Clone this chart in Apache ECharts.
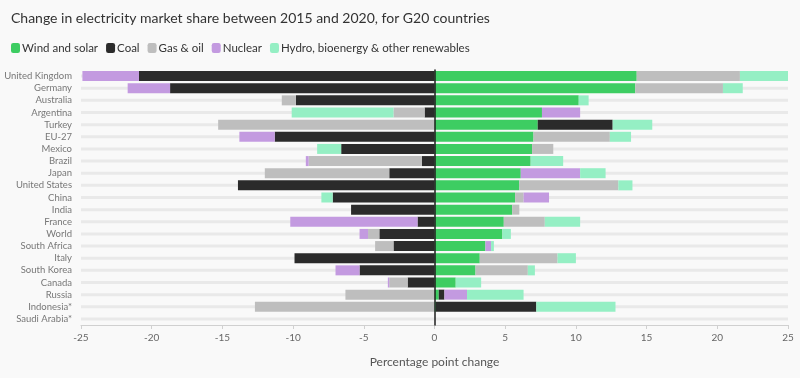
<!DOCTYPE html>
<html>
<head>
<meta charset="utf-8">
<script src="https://cdn.jsdelivr.net/npm/echarts@6/dist/echarts.min.js"></script>
<style>
html,body{margin:0;padding:0;background:#f9f9f9;}
#c{width:800px;height:378px;}
</style>
</head>
<body>
<div id="c"></div>
<script>
const categories = ["United Kingdom","Germany","Australia","Argentina","Turkey","EU-27","Mexico","Brazil","Japan","United States","China","India","France","World","South Africa","Italy","South Korea","Canada","Russia","Indonesia*","Saudi Arabia*"];
const windSolar = [14.3, 14.2, 10.2, 7.6, 7.3, 7.0, 6.9, 6.8, 6.1, 6.0, 5.7, 5.5, 4.9, 4.8, 3.6, 3.2, 2.9, 1.5, 0.3, 0.1, 0];
const coal      = [-20.9, -18.7, -9.8, -0.7, 5.3, -11.3, -6.6, -0.9, -3.2, -13.9, -7.2, -5.9, -1.2, -3.9, -2.9, -9.9, -5.3, -1.9, 0.4, 7.1, 0];
const gasOil    = [7.3, 6.2, -1.0, -2.2, -15.3, 5.4, 1.5, -8.0, -8.8, 7.0, 0.6, 0.5, 2.9, -0.8, -1.3, 5.5, 3.7, -1.3, -6.3, -12.7, 0];
const nuclear   = [-4.0, -3.0, 0, 2.7, 0, -2.5, 0, -0.2, 4.2, 0, 1.8, 0, -9.0, -0.6, 0.4, 0, -1.7, -0.1, 1.6, 0, 0];
const hydro     = [3.4, 1.4, 0.7, -7.2, 2.8, 1.5, -1.7, 2.3, 1.8, 1.0, -0.8, 0, 2.5, 0.6, 0.2, 1.3, 0.5, 1.8, 4.0, 5.6, 0];
const seriesNames = ["Wind and solar","Coal","Gas & oil","Nuclear","Hydro, bioenergy & other renewables"];
const seriesData = [windSolar, coal, gasOil, nuclear, hydro];
const colors = ["#3dcd62","#2b2b2b","#bebebe","#c39ae0","#95efc4"];
const xTicks = {min:-25, max:25, interval:5};

const font = "Lato, 'Noto Sans', sans-serif";
const chart = echarts.init(document.getElementById('c'), null, {renderer:'canvas'});

const trackPos = categories.map(() => xTicks.max);
const trackNeg = categories.map(() => xTicks.min);

const series = [
  {type:'bar', yAxisIndex:1, data:trackPos, barWidth:3, silent:true, z:1, itemStyle:{color:'#e9e9e9'}, barGap:'-100%'},
  {type:'bar', yAxisIndex:1, data:trackNeg, barWidth:3, silent:true, z:1, itemStyle:{color:'#e9e9e9'}, barGap:'-100%'}
];
seriesNames.forEach((n,i) => {
  series.push({
    name:n, type:'bar', stack:'total', yAxisIndex:0, data:seriesData[i],
    barWidth:10, z:3, itemStyle:{color:colors[i]}
  });
});

chart.setOption({
  backgroundColor:'#f9f9f9',
  animation:false,
  textStyle:{fontFamily:font},
  title:{
    text:'Change in electricity market share between 2015 and 2020, for G20 countries',
    left:6, top:6,
    textStyle:{fontSize:14, fontWeight:'normal', color:'#333', fontFamily:font}
  },
  legend:{
    data:seriesNames, left:6, top:37, icon:'roundRect', itemWidth:9, itemHeight:10, itemGap:8,
    textStyle:{fontSize:11.5, color:'#333', fontFamily:font, padding:[0,0,0,-3]}
  },
  grid:{left:81, right:12, top:70, bottom:53},
  xAxis:{
    type:'value', min:xTicks.min, max:xTicks.max, interval:xTicks.interval,
    name:'Percentage point change', nameLocation:'middle', nameGap:31,
    nameTextStyle:{fontSize:12, color:'#555', fontFamily:font},
    axisLine:{show:true, onZero:false, lineStyle:{color:'#d0d0d0'}},
    axisTick:{show:true, length:4, lineStyle:{color:'#d0d0d0'}},
    axisLabel:{fontSize:10, color:'#666', margin:8, fontFamily:font},
    splitLine:{show:false}
  },
  yAxis:[
    {
      type:'category', data:categories, inverse:true, z:10,
      axisLine:{show:true, onZero:true, lineStyle:{color:'#1e1e1e', width:1.5}},
      axisTick:{show:false},
      axisLabel:{interval:0, fontSize:9.5, color:'#777', margin:9, fontFamily:font}
    },
    {
      type:'category', data:categories, inverse:true, show:false
    }
  ],
  series:series
});
</script>
</body>
</html>
